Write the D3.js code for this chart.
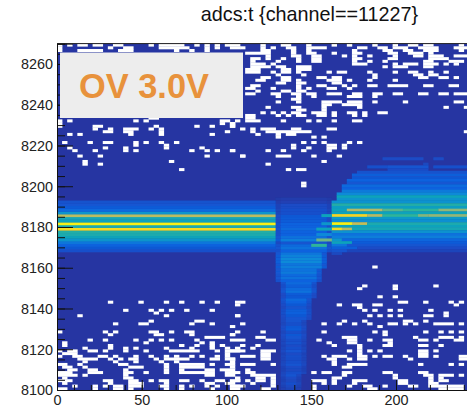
<!DOCTYPE html>
<html><head><meta charset="utf-8">
<script src="https://cdnjs.cloudflare.com/ajax/libs/d3/7.8.5/d3.min.js"></script>
<style>html,body{margin:0;padding:0;background:#fff;overflow:hidden}svg{display:block}</style>
</head><body><div id="c"></div>
<script>
const titleText = "adcs:t {channel==11227}";
const labelText = "OV 3.0V";
const xTicks = [0,50,100,150,200];
const yTicks = [8100,8120,8140,8160,8180,8200,8220,8240,8260];
const tBinWidth = 3, adcBinWidth = 170/128, adcBase = 8100;

// colour level of the flat band before the dip, by row
const bandRows = [51,52,53,54,55,56,57,58,59,60,61,62,63,64,65,66,67,68,69];
const bandLevels = [.12,.16,.2,.25,.34,.4,.44,.46,.92,.44,1,.4,.42,.7,.34,.22,.17,.15,.13];

// dip: level per row (index = row), first and last column per row
const dipLevels = [.07,.09,.12,.09,.1,.14,.12,.09,.1,.14,.12,.11,.12,.1,.15,.12,.1,.13,.12,.15,.16,.12,.17,.16,.12,.14,.15,.16,.19,.18,.14,.16,.2,.22,.16,.17,.24,.22,.18,.22,.2,.24,.22,.26,.24,.27,.25,.3,.3,.28,.25,.2,.24,.22,.14,.27,.24,.2,.2,.22,.2,.2,.17,.17,.16,.12,.12,.1,.1,.05,.03];
const dipFirst = [44,44,44,44,44,44,44,44,44,44,44,44,44,44,44,44,44,44,44,44,44,44,44,44,44,44,44,44,44,44,44,44,44,44,44,44,44,44,44,44,43,43,43,43,43,43,43,43,43,43,43,43,43,43,43,43,43,43,43,43,43,43,43,43,43,43,43,43,43,43,43];
const dipLast = [47,47,47,47,47,47,48,48,48,48,48,48,48,48,48,48,48,48,48,48,48,48,48,48,48,48,49,49,49,49,49,49,49,49,50,50,50,50,50,50,51,51,51,51,51,52,52,52,52,52,52,53,53,53,53,53,53,53,53,53,53,53,53,53,53,53,53,53,53,53,53];

// region after the dip: row, first column, last column, level
const recoveryRuns = [
[85,64,71,.1],[85,74,75,.1],[83,72,72,.08],[82,61,64,.12],[82,65,72,.14],[82,74,81,.12],[81,65,72,.1],
[80,59,81,.13],[79,58,81,.18],[78,58,81,.16],[77,57,81,.2],[76,57,81,.15],[75,56,81,.22],[74,56,81,.2],
[73,56,81,.26],[72,55,81,.3],[71,55,81,.4],[70,55,81,.34],[69,54,81,.33],[68,54,81,.46],
[67,54,81,.38],[66,54,56,.4],[66,57,63,.68],[66,64,67,.55],[66,68,74,.5],[66,75,81,.62],
[65,54,81,.4],[64,54,60,.9],[64,61,63,.68],[64,64,70,.5],[64,71,72,.6],[64,73,81,.62],
[63,54,81,.36],[62,54,81,.32],[61,54,57,1],[61,58,60,.72],[61,61,81,.44],[60,54,81,.4],
[59,54,55,.92],[59,56,57,.7],[59,58,81,.42],[58,54,81,.33],[57,54,81,.24],[56,54,81,.27],
[55,54,55,.35],[55,56,81,.21],[54,54,57,.4],[54,58,81,.17],[53,54,56,.25],[53,57,81,.14],
[52,54,58,.18],[52,59,81,.1],[51,54,56,.14],[51,57,81,.07],[50,54,55,.08],
[61,52,53,.35],[59,51,53,.4],[55,51,53,.58],[53,50,52,.5],[64,52,53,.4],[57,51,53,.3]
];

const emptyBinsLower = [
[32,"10,16,21,24,28,31,35"],[29,"13,18,20,22,25,30"],[28,"19"],[27,"4,21,35"],[25,"18,27-28"],[24,"11,16-17,26,30"],[23,"34"],
[21,"0,9,11,18-19,22,25-26,35"],[20,"10,19-20,26,34"],[19,"29-32"],[18,"6,9,15,18,20,22,27"],[17,"1,17,28,30"],[16,"1,10,24,27,30,32"],
[15,"5,10,13,15,21,26,30,33"],[14,"0,2-3,6-7,9,13,17,22-27,31,33-35"],[13,"1-3,33"],[12,"0,3-4,8-9,11,15,18,21,23,26,28,31,33"],
[11,"4-7,10,12,14-15,19,21-25,30-31,33-34"],[10,"5,11,15,20,23"],[9,"0-1,4,12-13,21,24-28,30,33-34"],[8,"1-2,5,14-16,21,24-28"],
[7,"2-3,6-7,13,21,24,29-30,32-34"],[6,"0-2,6-8,13-14,17,21,24-30,33-34"],[5,"0-3,5,13,29-30,33-34"],[4,"1,13-14"],
[3,"0-2,9-10,14-15,18,20-21,24-25,28,31-32,34-35"],[2,"1,10,14-16,21,29-30,33-34"],[1,"3,7,9,11-12,14-16,20-21,24,26,29,31,34-35"],[0,"0-1,7,11-12,14,21,24,30,34-35"],
[45,"62"],[38,"60,66,74"],[37,"59,66"],[34,"63,66"],[32,"36,67-68,72,77,79"],[31,"35,55,58-59,62-63,78"],[30,"59"],[29,"60,62,65,67,73"],[28,"76"],
[27,"35,61,63,65,67,72-73,76"],[25,"56,60,68-69,72"],[24,"36,52,55,58,61,65-66,68,70,74-77,79"],[23,"63"],[21,"40,52,62,64,72,75,77,79"],[20,"34,64"],
[19,"39-40,56-58,70,75-77,79"],[18,"34-36,41-42,51,57-58,61,64-65,71-72,74,78-79"],[17,"53,57-58,65"],[16,"36,39,54,59,64-65,71-72,75"],[15,"35,38,59"],
[14,"34-36,40-42,57,59,61,63,71-72,74"],[13,"40-41,59,71-72"],[12,"36-38,40-41,52,54-56,59-60,62,64-65,68,71-72,74,79-80"],[11,"34,40-41,53-54,57,59-60,69,79-80"],
[10,"34,54"],[9,"36-38,42,54,57-60,71,77,79"],[8,"34,56-57"],[7,"37"],[6,"34-35,37-38,50,52-53,56-57,64-65,71-72"],[5,"38-42,56,66,72-73,75-77,79"],
[4,"35,39-40,42,54-55,66,73,75"],[3,"35,37,39-40,42,50-52,54,58-60,67-68,73,75-76"],[2,"38,42,52,54,58,67-68,73-74"],[1,"34-36,42,50,57,60-61,64,69-70,73-79"],[0,"40-41,50,61-62,75-79"]
];
const emptyBinsUpper = [
[127,"0,2,4-5,7-8,11-12,18,20-24,27,29,31,33"],[126,"0,10,13-14,20-25,29,31,34-35"],[125,"0,4-8,12-14,23,26,29"],
[101,"11,16,19,23,29-30"],[100,"18-19"],[99,"0,2,15,17,32-33,35"],[98,"0,32,34"],[97,"0,7-8,19,27,30,34"],[96,"7,10,13-15,18,20"],[95,"9-10,13-14,20,33"],[94,"2,4,14,20,30"],
[91,"1,6,9-10,15,17,20,23"],[90,"15,21"],[89,"2,9,13,21,28"],[88,"3,7,13,15,26,29,31,34"],[86,"4,8,29,36"],[84,"5,22"],[83,"5,8"],[81,"24"],
[127,"34-35,40,44-45,49,54,57,62,66,69-70,72-73,79"],[126,"36,40,42,45-46,49-52,59-60,63-64,66-68,71-74,78-80"],[125,"40-41,46,49,58,64-65,68-69,72-74,79"],
[124,"37-41,46,49-50,54,58-59,65-66,69-71,73"],[123,"41,46-47,50-51,56,58,61,66,70-71,73-75,78-80"],[122,"38-39,41,44,47,50-51,58-59,65-66,73-76"],
[121,"38,43,47,50-51,58,61,64,72-73,77-79"],[120,"38-40,42,58-60,66,68-70,72-74,76,78"],[119,"38-41,43-44,47-49,64,66-68,72-73"],[118,"37-39,44-45,47-49"],
[117,"37-39,42,44-45,47,53,55-56,61,66,69-70,73,76"],[116,"43,48,62,70-71,73-74"],[115,"40-41,44-45,51-52,54-55,62,71-72,75-76,78"],[114,"39-40,44-45,47,53-55,57,61,66"],
[113,"43-44,47-48,54-55"],[112,"38-39,47,51-52,56,58,61-62,65-68,72-73,77-78"],[111,"37-38,42,47,49,53-54,57"],[110,"39,44-45,47-48"],
[109,"37-38,42-43,46-47,49-50,53-55,58-59,62-63,66-67,71-72,75-76,78-80"],[108,"43,47,50,57-59,62"],[107,"46-47"],[106,"43,47,52-55,57-59,62,68,78-79"],[105,"52-53,56-59"],
[104,"41,46-47,52,59,76,80"],[103,"47-48,52"],[102,"40,42,44,46-47,50-52,54,57-58,60,63-64"],[101,"37-38,43,45,47-48,51-52,54,58,60"],[100,"37-38"],[99,"37-39,44,49,51,54,58-59"],
[98,"34"],[97,"34"],[96,"36,38,40-42,46-47,53-54"],[95,"38,41-49,80"],[94,"39,43,45-46"],[93,"43,50,52"],[91,"48,50,52,57,59"],[90,"46,53-54,56"],[89,"46,49,53-54,56"],
[88,"34,41,44,48,53"],[86,"36,43-45,50,55"],[84,"52"],[83,"41"],[81,"45,47-48"],[76,"48"],[75,"48"]
];

const W = 467, H = 420;
const plot = {left:57, top:43.6, bottom:390, right:567};
const x = d3.scaleLinear().domain([0,300]).range([plot.left, plot.left+508.5]);
const y = d3.scaleLinear().domain([8100,8270]).range([plot.bottom, plot.top]);
const colour = d3.scaleLinear()
  .domain([0,.1,.2,.3,.4,.5,.65,.85,1])
  .range(["#2536a2","#1a4cc6","#0b62de","#0b8ad8","#11a3bb","#2fb49a","#aab86e","#f0c830","#f8f014"]);

const svg = d3.select("#c").append("svg").attr("width",W).attr("height",H).attr("viewBox",`0 0 ${W} ${H}`);
const defs = svg.append("defs");
defs.append("clipPath").attr("id","pc").append("rect").attr("x",plot.left).attr("y",plot.top).attr("width",W-plot.left).attr("height",plot.bottom-plot.top);
defs.append("filter").attr("id","soft").attr("x","-2%").attr("y","-2%").attr("width","104%").attr("height","104%")
  .append("feGaussianBlur").attr("stdDeviation",0.6);

const runs = [];
bandRows.forEach((r,i)=>runs.push({r,c0:0,c1:42,l:bandLevels[i]}));
// the dip's outermost columns hold fewer entries than its core
dipLevels.forEach((l,r)=>{
  runs.push({r,c0:dipFirst[r],c1:dipLast[r],l:l*0.6});
  runs.push({r,c0:dipFirst[r]+1,c1:dipLast[r]-1,l});
});
recoveryRuns.forEach(d=>runs.push({r:d[0],c0:d[1],c1:d[2],l:d[3]}));

const empties = [];
emptyBinsLower.concat(emptyBinsUpper).forEach(([r,s])=>{
  s.split(",").forEach(p=>{
    const q = p.split("-").map(Number);
    empties.push({r,c0:q[0],c1:q.length>1?q[1]:q[0]});
  });
});

const cell = (sel)=>sel
  .attr("x",d=>x(d.c0*tBinWidth))
  .attr("width",d=>x((d.c1+1)*tBinWidth)-x(d.c0*tBinWidth)+.3)
  .attr("y",d=>y(adcBase+(d.r+1)*adcBinWidth))
  .attr("height",d=>y(adcBase+d.r*adcBinWidth)-y(adcBase+(d.r+1)*adcBinWidth)+.3);

const g = svg.append("g").attr("clip-path","url(#pc)").append("g").attr("filter","url(#soft)");
g.append("rect").attr("x",plot.left-3).attr("y",plot.top-3).attr("width",W).attr("height",plot.bottom-plot.top+6).attr("fill",colour(0));
g.selectAll("rect.run").data(runs).join("rect").attr("class","run").call(cell).attr("fill",d=>colour(d.l));
g.selectAll("rect.empty").data(empties).join("rect").attr("class","empty").call(cell).attr("fill","#fff");

// axes
const font = "'Liberation Sans',Arial,sans-serif";
const yMinor = d3.range(8100,8271,5);
const xMinor = d3.range(0,241,10);
const yAxisG = svg.append("g").attr("transform",`translate(${plot.left},0)`);
yAxisG.append("g").call(d3.axisLeft(y).tickValues(yMinor).tickSize(-8).tickFormat(""));
const ym = yAxisG.append("g").call(d3.axisLeft(y).tickValues(yTicks).tickSize(-16).tickFormat(d3.format("d")));
ym.selectAll("text").attr("x",-4).attr("dy","0.34em").attr("font-size",14.4).attr("font-family",font).attr("fill","#222").attr("text-anchor","end");
const xAxisG = svg.append("g").attr("transform",`translate(0,${plot.bottom})`);
xAxisG.append("g").call(d3.axisBottom(x).tickValues(xMinor).tickSize(-5).tickFormat(""));
const xm = xAxisG.append("g").call(d3.axisBottom(x).tickValues(xTicks).tickSize(-10).tickFormat(d3.format("d")));
xm.selectAll("text").attr("y",5).attr("dy","0.71em").attr("font-size",14.4).attr("font-family",font).attr("fill","#222");
svg.selectAll(".domain").attr("stroke","#111").attr("stroke-width",1);
svg.selectAll(".tick line").attr("stroke","#111").attr("stroke-width",1);
svg.append("line").attr("x1",plot.left).attr("x2",W).attr("y1",plot.top).attr("y2",plot.top).attr("stroke","#222");

// overlay label
svg.append("rect").attr("x",60).attr("y",52.5).attr("width",183).attr("height",65.5).attr("fill","#ededed");
svg.append("text").attr("x",79).attr("y",98).attr("font-family",font).attr("font-weight",700).attr("font-size",34.4).attr("fill","#e8923c").text(labelText);
svg.append("text").attr("x",309.5).attr("y",21).attr("text-anchor","middle").attr("font-family",font).attr("font-size",19.8).attr("fill","#111").text(titleText);
</script></body></html>
